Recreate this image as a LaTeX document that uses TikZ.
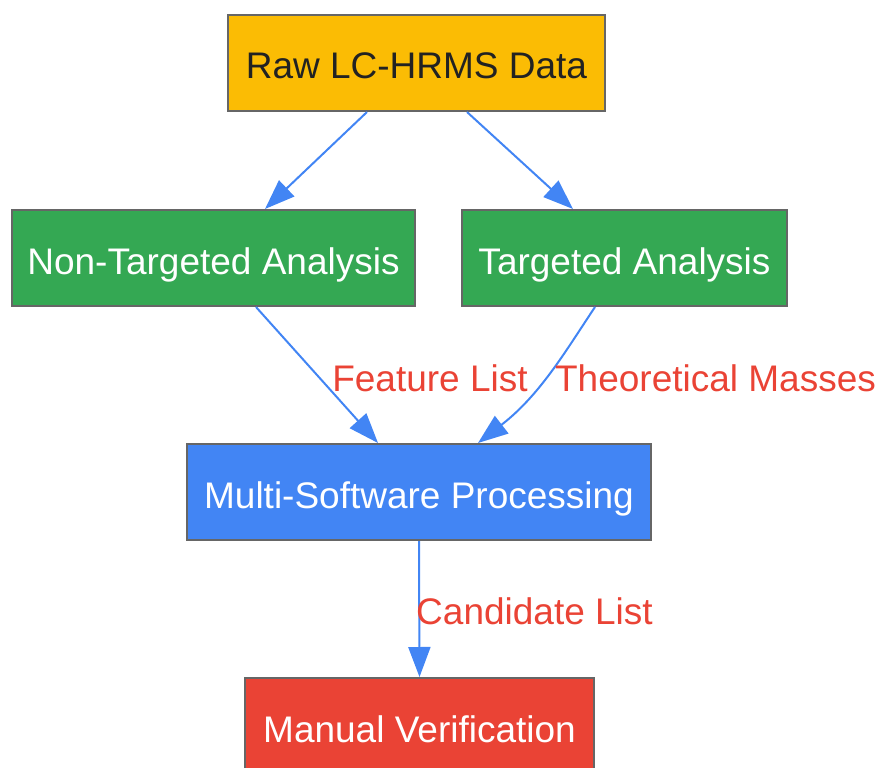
\documentclass[tikz,border=0pt]{standalone}
\usepackage{fontspec}
\setmainfont{Liberation Sans}
\usetikzlibrary{arrows.meta}
\definecolor{rawyellow}{HTML}{FBBC04}
\definecolor{stepgreen}{HTML}{34A853}
\definecolor{procblue}{HTML}{4285F4}
\definecolor{checkred}{HTML}{EA4335}
\definecolor{rimgray}{HTML}{666666}
\definecolor{darktext}{HTML}{222222}
\tikzstyle{block}=[draw=rimgray,line width=2pt,minimum height=96pt,inner sep=0pt,text height=32pt,text depth=0pt,text=white,font=\fontsize{37}{44}\selectfont]
\tikzstyle{edge}=[draw,line width=2pt,procblue,-{Triangle[length=30pt,width=22pt]}]
\tikzstyle{lbl}=[text=checkred,inner sep=0pt,font=\fontsize{37}{44}\selectfont]

\begin{document}
\begin{tikzpicture}[x=1pt,y=-1pt]
    \useasboundingbox (0,0) rectangle (879,768);
    % boites
    \foreach \pos/\name/\bw/\col/\txt in {{(416.5,63)/raw/377/rawyellow/{\textcolor{darktext}{Raw LC-HRMS Data}}}, {(213.5,258)/nta/403/stepgreen/Non-Targeted Analysis}, {(624.5,258)/ta/325/stepgreen/Targeted Analysis}, {(419,492)/msp/464/procblue/Multi-Software Processing}, {(419.5,726)/mv/349/checkred/Manual Verification}}
        \node[block,fill=\col,minimum width=\bw pt] (\name) at \pos {\txt};
    % fleches
    \path[edge] ([xshift=-49.5pt]raw.south) -- ([xshift=51.5pt]nta.north);
    \path[edge] ([xshift=50.5pt]raw.south) -- ([xshift=-51.5pt]ta.north);
    \path[edge] ([xshift=42.5pt]nta.south) -- ([xshift=-41pt]msp.north);
    \path[edge] ([xshift=-29.5pt]ta.south) .. controls (565,352) and (540,395) .. ([xshift=59pt]msp.north);
    \path[edge] (msp.south) -- (mv.north);
    % etiquettes
    \node[lbl] (feat) at (430,378) {Feature List};
    \node[lbl] (theo) at (715.5,378) {Theoretical Masses};
    \node[lbl] (cand) at (534.5,611) {Candidate List};
\end{tikzpicture}
\end{document}
